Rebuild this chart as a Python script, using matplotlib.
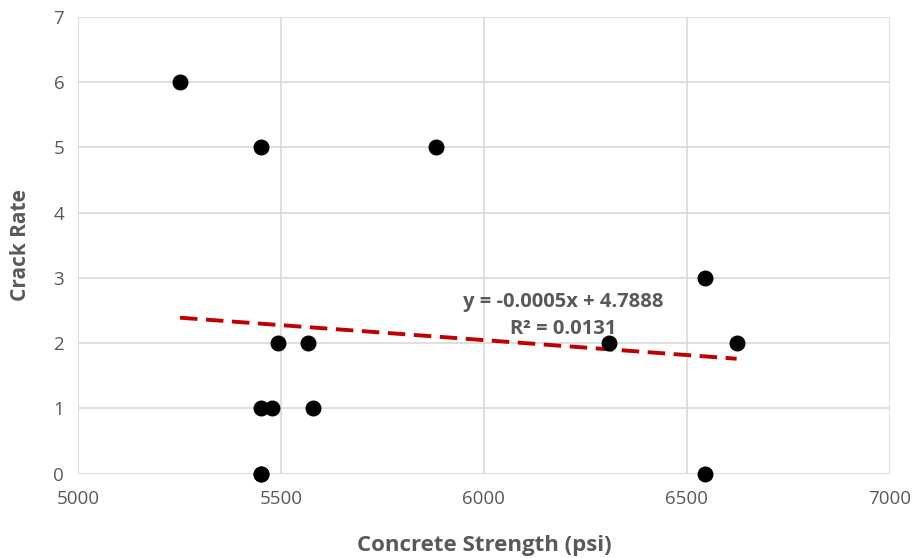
import numpy as np
import matplotlib
matplotlib.use("Agg")
import matplotlib.pyplot as plt

# ============================================================================
# DATA
# ============================================================================

strength = [5251, 5450, 5882, 5493, 5567, 5451, 5478, 5579, 5451, 5451,
            6308, 6544, 6544, 6623]
crack_rate = [6, 5, 5, 2, 2, 1, 1, 1, 0, 0,
              2, 3, 0, 2]

x_ticks = [5000, 5500, 6000, 6500, 7000]
y_ticks = [0, 1, 2, 3, 4, 5, 6, 7]

eq_text = "y = -0.0005x + 4.7888\nR\u00b2 = 0.0131"

# ============================================================================
# PLOT
# ============================================================================

plt.rcParams['font.family'] = ['Open Sans', 'DejaVu Sans']
grey = '#595959'
grid_col = '#d9d9d9'

fig = plt.figure(figsize=(9.19, 5.58), dpi=100)
ax = fig.add_axes([0.085, 0.151, 0.883, 0.819])

ax.scatter(strength, crack_rate, s=110, color='black', zorder=4, clip_on=False)

# linear trendline
slope, intercept = np.polyfit(strength, crack_rate, 1)
xs = np.array([min(strength), max(strength)])
ax.plot(xs, slope * xs + intercept, color='#c00000', lw=2.8,
        dashes=(4.5, 2.2), zorder=3)

ax.text(6195, 2.42, eq_text, ha='center', va='center', fontsize=14.5,
        fontweight='bold', color=grey, linespacing=1.5, zorder=5)

ax.set_xlim(5000, 7000)
ax.set_ylim(0, 7)
ax.set_xticks(x_ticks)
ax.set_yticks(y_ticks)
ax.grid(True, color=grid_col, lw=1.2, zorder=0)
ax.set_axisbelow(True)
for sp in ax.spines.values():
    sp.set_visible(False)
ax.axvline(5000, color=grid_col, lw=1.2, zorder=1)
ax.axhline(0, color=grid_col, lw=1.2, zorder=1)

ax.tick_params(length=0, labelsize=13.5, labelcolor=grey, pad=10)
ax.tick_params(axis='x', pad=12)
ax.set_xlabel('Concrete Strength (psi)', fontsize=16, fontweight='bold',
              color=grey, labelpad=19)
ax.set_ylabel('Crack Rate', fontsize=15, fontweight='bold', color=grey,
              labelpad=16)

fig.savefig('out.png', dpi=100)
